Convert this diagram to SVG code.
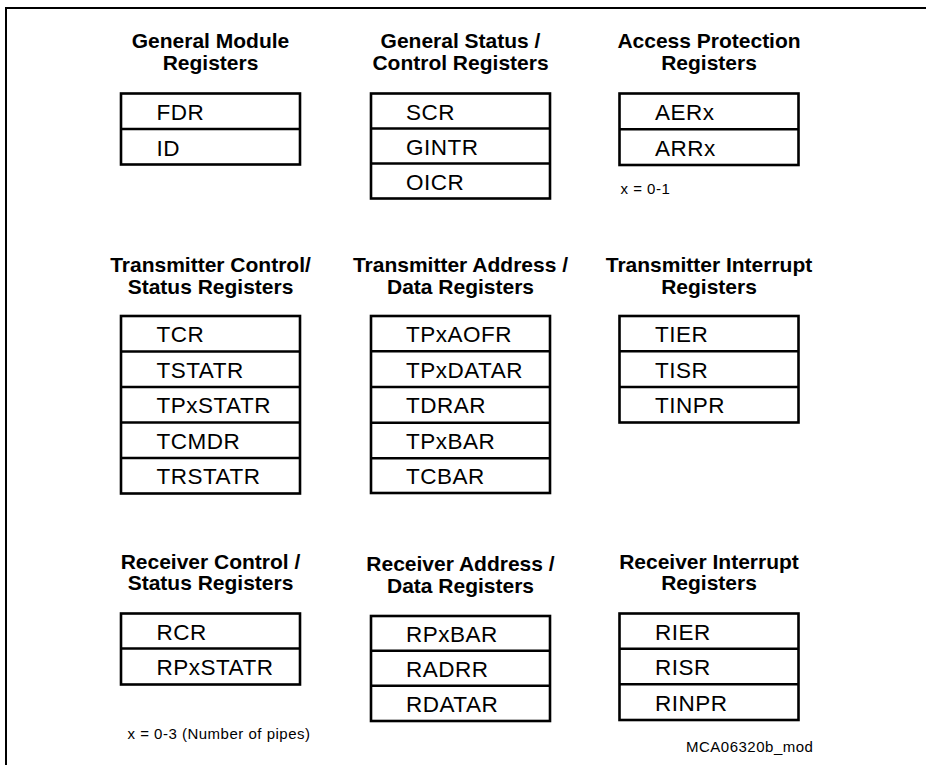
<svg xmlns="http://www.w3.org/2000/svg" width="927" height="765" viewBox="0 0 927 765">
<style>
.bg{fill:#fff}
.frame{fill:none;stroke:#000;stroke-width:2}
.box{fill:#fff;stroke:#000;stroke-width:2.6}
.div{stroke:#000;stroke-width:2.6}
.t{font-family:"Liberation Sans",Arial,sans-serif;font-weight:bold;font-size:21px;text-anchor:middle;fill:#000}
.r{font-family:"Liberation Sans",Arial,sans-serif;font-size:22.5px;letter-spacing:0.5px;fill:#000}
.n{font-family:"Liberation Sans",Arial,sans-serif;font-size:15px;letter-spacing:0.5px;fill:#000}
</style>
<rect class="bg" x="0" y="0" width="927" height="765"/>
<path class="frame" d="M6,765 V8 H926"/>

<g id="general-module">
<text class="t" x="210.5" y="48">General Module</text>
<text class="t" x="210.5" y="70">Registers</text>
<rect class="box" x="121" y="93.5" width="179" height="71"/>
<line class="div" x1="121" y1="129" x2="300" y2="129"/>
<text class="r" x="156.5" y="120">FDR</text>
<text class="r" x="156.5" y="155.5">ID</text>
</g>

<g id="general-status">
<text class="t" x="460.5" y="48">General Status /</text>
<text class="t" x="460.5" y="70">Control Registers</text>
<rect class="box" x="371" y="93.5" width="179" height="105"/>
<line class="div" x1="371" y1="128.5" x2="550" y2="128.5"/>
<line class="div" x1="371" y1="163.5" x2="550" y2="163.5"/>
<text class="r" x="406" y="120">SCR</text>
<text class="r" x="406" y="155">GINTR</text>
<text class="r" x="406" y="190">OICR</text>
</g>

<g id="access-protection">
<text class="t" x="709" y="48">Access Protection</text>
<text class="t" x="709" y="70">Registers</text>
<rect class="box" x="619.5" y="93.5" width="179" height="71.5"/>
<line class="div" x1="619.5" y1="129.3" x2="798.5" y2="129.3"/>
<text class="r" x="655" y="120">AERx</text>
<text class="r" x="655" y="155.5">ARRx</text>
<text class="n" x="620.5" y="194">x = 0-1</text>
</g>

<g id="tx-control">
<text class="t" x="210.5" y="271.5">Transmitter Control/</text>
<text class="t" x="210.5" y="293.5">Status Registers</text>
<rect class="box" x="121" y="316" width="179" height="177.5"/>
<line class="div" x1="121" y1="351.5" x2="300" y2="351.5"/>
<line class="div" x1="121" y1="387" x2="300" y2="387"/>
<line class="div" x1="121" y1="422.5" x2="300" y2="422.5"/>
<line class="div" x1="121" y1="458" x2="300" y2="458"/>
<text class="r" x="156.5" y="342">TCR</text>
<text class="r" x="156.5" y="377.5">TSTATR</text>
<text class="r" x="156.5" y="413">TPxSTATR</text>
<text class="r" x="156.5" y="448.5">TCMDR</text>
<text class="r" x="156.5" y="484">TRSTATR</text>
</g>

<g id="tx-address">
<text class="t" x="460.5" y="271.5">Transmitter Address /</text>
<text class="t" x="460.5" y="293.5">Data Registers</text>
<rect class="box" x="371" y="316" width="179" height="177"/>
<line class="div" x1="371" y1="351.3" x2="550" y2="351.3"/>
<line class="div" x1="371" y1="387" x2="550" y2="387"/>
<line class="div" x1="371" y1="422.7" x2="550" y2="422.7"/>
<line class="div" x1="371" y1="458.3" x2="550" y2="458.3"/>
<text class="r" x="406" y="342">TPxAOFR</text>
<text class="r" x="406" y="377.5">TPxDATAR</text>
<text class="r" x="406" y="413">TDRAR</text>
<text class="r" x="406" y="448.5">TPxBAR</text>
<text class="r" x="406" y="484">TCBAR</text>
</g>

<g id="tx-interrupt">
<text class="t" x="709" y="271.5">Transmitter Interrupt</text>
<text class="t" x="709" y="293.5">Registers</text>
<rect class="box" x="619.5" y="316" width="179" height="106.5"/>
<line class="div" x1="619.5" y1="351.3" x2="798.5" y2="351.3"/>
<line class="div" x1="619.5" y1="387" x2="798.5" y2="387"/>
<text class="r" x="655" y="342">TIER</text>
<text class="r" x="655" y="377.5">TISR</text>
<text class="r" x="655" y="413">TINPR</text>
</g>

<g id="rx-control">
<text class="t" x="210.5" y="568.5">Receiver Control /</text>
<text class="t" x="210.5" y="590">Status Registers</text>
<rect class="box" x="121" y="613.5" width="179" height="71"/>
<line class="div" x1="121" y1="648.5" x2="300" y2="648.5"/>
<text class="r" x="156.5" y="640">RCR</text>
<text class="r" x="156.5" y="675">RPxSTATR</text>
<text class="n" x="127.5" y="739">x = 0-3 (Number of pipes)</text>
</g>

<g id="rx-address">
<text class="t" x="460.5" y="571">Receiver Address /</text>
<text class="t" x="460.5" y="592.5">Data Registers</text>
<rect class="box" x="371" y="616" width="179" height="105"/>
<line class="div" x1="371" y1="650.8" x2="550" y2="650.8"/>
<line class="div" x1="371" y1="685.8" x2="550" y2="685.8"/>
<text class="r" x="406" y="642">RPxBAR</text>
<text class="r" x="406" y="677">RADRR</text>
<text class="r" x="406" y="712">RDATAR</text>
</g>

<g id="rx-interrupt">
<text class="t" x="709" y="568.5">Receiver Interrupt</text>
<text class="t" x="709" y="590">Registers</text>
<rect class="box" x="619.5" y="613.5" width="179" height="106.5"/>
<line class="div" x1="619.5" y1="648.8" x2="798.5" y2="648.8"/>
<line class="div" x1="619.5" y1="684.2" x2="798.5" y2="684.2"/>
<text class="r" x="655" y="640">RIER</text>
<text class="r" x="655" y="675">RISR</text>
<text class="r" x="655" y="710.5">RINPR</text>
<text class="n" x="686" y="752">MCA06320b_mod</text>
</g>

<g id="connectors"></g>
</svg>
